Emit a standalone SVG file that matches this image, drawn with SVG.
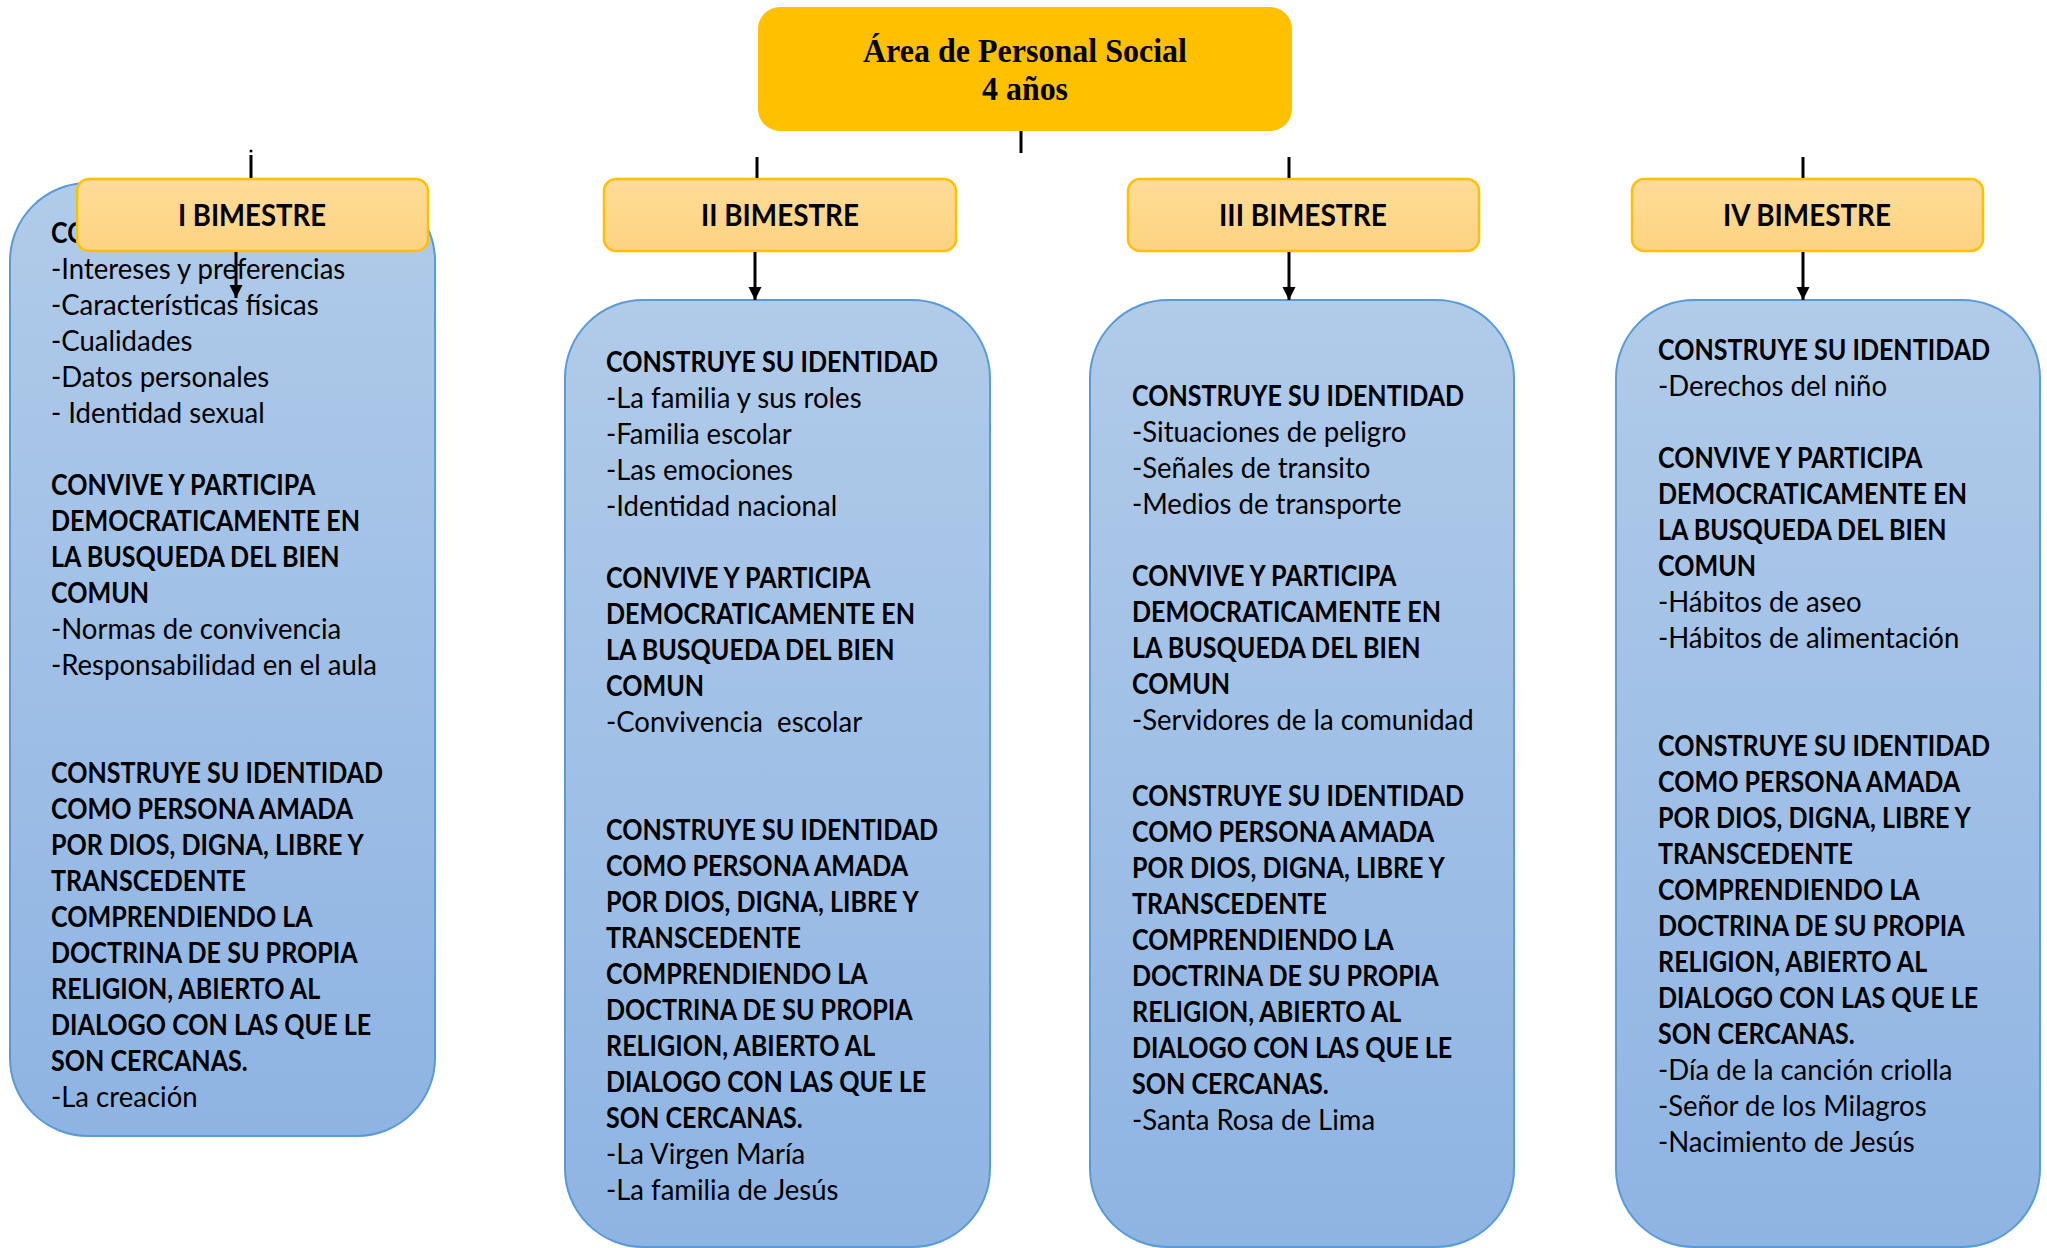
<svg xmlns="http://www.w3.org/2000/svg" width="2047" height="1248" viewBox="0 0 2047 1248">
<style>
.title{font-family:"Liberation Serif","Times New Roman",serif;font-weight:bold;font-size:34px;fill:#000}
.bim{font-family:Lato,"Liberation Sans",sans-serif;font-weight:bold;font-size:30px;fill:#000}
.body text{font-family:Lato,"Liberation Sans",sans-serif;font-size:29px;fill:#000}
.body .b{font-weight:bold}
.blue{fill:url(#gBlue);stroke:#5B9BD5;stroke-width:2}
.orange{fill:url(#gOr);stroke:#FFC000;stroke-width:2.5}
.ln{stroke:#000;stroke-width:3;fill:none}
.arr{stroke:#000;stroke-width:3;fill:none;marker-end:url(#ah)}
</style>
<defs>
<linearGradient id="gBlue" x1="0" y1="0" x2="0" y2="1">
<stop offset="0" stop-color="#B1CBE9"/><stop offset="1" stop-color="#8EB4E3"/>
</linearGradient>
<linearGradient id="gOr" x1="0" y1="0" x2="0" y2="1">
<stop offset="0" stop-color="#FEDC98"/><stop offset="1" stop-color="#FDD381"/>
</linearGradient>
<marker id="ah" viewBox="0 0 10 10" refX="10" refY="5" markerWidth="4.5" markerHeight="4.5" orient="auto" markerUnits="strokeWidth">
<path d="M0,0 L10,5 L0,10 z" fill="#000"/>
</marker>
</defs>
<rect width="2047" height="1248" fill="#fff"/>

<g id="node-title">
<rect x="758" y="7" width="534" height="124" rx="22" fill="#FFC000"/>
<text class="title" x="1025" y="62" text-anchor="middle" textLength="324" lengthAdjust="spacingAndGlyphs">Área de Personal Social</text>
<text class="title" x="1025" y="100" text-anchor="middle" textLength="86" lengthAdjust="spacingAndGlyphs">4 años</text>
</g>

<g id="node-box1">
<rect class="blue" x="10" y="183" width="425" height="953" rx="78"/>
<g class="body" transform="translate(51,0) scale(0.865,1)">
<text class="b" x="0" y="243">CONSTRUYE SU IDENTIDAD</text>
<text class="b" x="0" y="495">CONVIVE Y PARTICIPA</text>
<text class="b" x="0" y="531">DEMOCRATICAMENTE EN</text>
<text class="b" x="0" y="567">LA BUSQUEDA DEL BIEN</text>
<text class="b" x="0" y="603">COMUN</text>
<text class="b" x="0" y="783">CONSTRUYE SU IDENTIDAD</text>
<text class="b" x="0" y="819">COMO PERSONA AMADA</text>
<text class="b" x="0" y="855">POR DIOS, DIGNA, LIBRE Y</text>
<text class="b" x="0" y="891">TRANSCEDENTE</text>
<text class="b" x="0" y="927">COMPRENDIENDO LA</text>
<text class="b" x="0" y="963">DOCTRINA DE SU PROPIA</text>
<text class="b" x="0" y="999">RELIGION, ABIERTO AL</text>
<text class="b" x="0" y="1035">DIALOGO CON LAS QUE LE</text>
<text class="b" x="0" y="1071">SON CERCANAS.</text>
</g>
<g class="body" transform="translate(51,0) scale(0.95,1)">
<text x="0" y="279">-Intereses y preferencias</text>
<text x="0" y="315">-Características físicas</text>
<text x="0" y="351">-Cualidades</text>
<text x="0" y="387">-Datos personales</text>
<text x="0" y="423">- Identidad sexual</text>
<text x="0" y="639">-Normas de convivencia</text>
<text x="0" y="675">-Responsabilidad en el aula</text>
<text x="0" y="1107">-La creación</text>
</g>
</g>

<g id="node-box2">
<rect class="blue" x="565" y="300" width="425" height="947" rx="78"/>
<g class="body" transform="translate(606,0) scale(0.865,1)">
<text class="b" x="0" y="372">CONSTRUYE SU IDENTIDAD</text>
<text class="b" x="0" y="588">CONVIVE Y PARTICIPA</text>
<text class="b" x="0" y="624">DEMOCRATICAMENTE EN</text>
<text class="b" x="0" y="660">LA BUSQUEDA DEL BIEN</text>
<text class="b" x="0" y="696">COMUN</text>
<text class="b" x="0" y="840">CONSTRUYE SU IDENTIDAD</text>
<text class="b" x="0" y="876">COMO PERSONA AMADA</text>
<text class="b" x="0" y="912">POR DIOS, DIGNA, LIBRE Y</text>
<text class="b" x="0" y="948">TRANSCEDENTE</text>
<text class="b" x="0" y="984">COMPRENDIENDO LA</text>
<text class="b" x="0" y="1020">DOCTRINA DE SU PROPIA</text>
<text class="b" x="0" y="1056">RELIGION, ABIERTO AL</text>
<text class="b" x="0" y="1092">DIALOGO CON LAS QUE LE</text>
<text class="b" x="0" y="1128">SON CERCANAS.</text>
</g>
<g class="body" transform="translate(606,0) scale(0.95,1)">
<text x="0" y="408">-La familia y sus roles</text>
<text x="0" y="444">-Familia escolar</text>
<text x="0" y="480">-Las emociones</text>
<text x="0" y="516">-Identidad nacional</text>
<text x="0" y="732" xml:space="preserve">-Convivencia  escolar</text>
<text x="0" y="1164">-La Virgen María</text>
<text x="0" y="1200">-La familia de Jesús</text>
</g>
</g>

<g id="node-box3">
<rect class="blue" x="1090" y="300" width="424" height="947" rx="78"/>
<g class="body" transform="translate(1132,0) scale(0.865,1)">
<text class="b" x="0" y="406">CONSTRUYE SU IDENTIDAD</text>
<text class="b" x="0" y="586">CONVIVE Y PARTICIPA</text>
<text class="b" x="0" y="622">DEMOCRATICAMENTE EN</text>
<text class="b" x="0" y="658">LA BUSQUEDA DEL BIEN</text>
<text class="b" x="0" y="694">COMUN</text>
<text class="b" x="0" y="806">CONSTRUYE SU IDENTIDAD</text>
<text class="b" x="0" y="842">COMO PERSONA AMADA</text>
<text class="b" x="0" y="878">POR DIOS, DIGNA, LIBRE Y</text>
<text class="b" x="0" y="914">TRANSCEDENTE</text>
<text class="b" x="0" y="950">COMPRENDIENDO LA</text>
<text class="b" x="0" y="986">DOCTRINA DE SU PROPIA</text>
<text class="b" x="0" y="1022">RELIGION, ABIERTO AL</text>
<text class="b" x="0" y="1058">DIALOGO CON LAS QUE LE</text>
<text class="b" x="0" y="1094">SON CERCANAS.</text>
</g>
<g class="body" transform="translate(1132,0) scale(0.95,1)">
<text x="0" y="442">-Situaciones de peligro</text>
<text x="0" y="478">-Señales de transito</text>
<text x="0" y="514">-Medios de transporte</text>
<text x="0" y="730">-Servidores de la comunidad</text>
<text x="0" y="1130">-Santa Rosa de Lima</text>
</g>
</g>

<g id="node-box4">
<rect class="blue" x="1616" y="300" width="424" height="947" rx="78"/>
<g class="body" transform="translate(1658,0) scale(0.865,1)">
<text class="b" x="0" y="360">CONSTRUYE SU IDENTIDAD</text>
<text class="b" x="0" y="468">CONVIVE Y PARTICIPA</text>
<text class="b" x="0" y="504">DEMOCRATICAMENTE EN</text>
<text class="b" x="0" y="540">LA BUSQUEDA DEL BIEN</text>
<text class="b" x="0" y="576">COMUN</text>
<text class="b" x="0" y="756">CONSTRUYE SU IDENTIDAD</text>
<text class="b" x="0" y="792">COMO PERSONA AMADA</text>
<text class="b" x="0" y="828">POR DIOS, DIGNA, LIBRE Y</text>
<text class="b" x="0" y="864">TRANSCEDENTE</text>
<text class="b" x="0" y="900">COMPRENDIENDO LA</text>
<text class="b" x="0" y="936">DOCTRINA DE SU PROPIA</text>
<text class="b" x="0" y="972">RELIGION, ABIERTO AL</text>
<text class="b" x="0" y="1008">DIALOGO CON LAS QUE LE</text>
<text class="b" x="0" y="1044">SON CERCANAS.</text>
</g>
<g class="body" transform="translate(1658,0) scale(0.95,1)">
<text x="0" y="396">-Derechos del niño</text>
<text x="0" y="612">-Hábitos de aseo</text>
<text x="0" y="648">-Hábitos de alimentación</text>
<text x="0" y="1080">-Día de la canción criolla</text>
<text x="0" y="1116">-Señor de los Milagros</text>
<text x="0" y="1152">-Nacimiento de Jesús</text>
</g>
</g>

<g id="node-bim1">
<rect class="orange" x="77" y="179" width="351" height="72" rx="12"/>
<text class="bim" x="252" y="226" text-anchor="middle" textLength="148" lengthAdjust="spacingAndGlyphs">I BIMESTRE</text>
</g>
<g id="node-bim2">
<rect class="orange" x="604" y="179" width="352" height="72" rx="12"/>
<text class="bim" x="780" y="226" text-anchor="middle" textLength="158" lengthAdjust="spacingAndGlyphs">II BIMESTRE</text>
</g>
<g id="node-bim3">
<rect class="orange" x="1128" y="179" width="351" height="72" rx="12"/>
<text class="bim" x="1303" y="226" text-anchor="middle" textLength="168" lengthAdjust="spacingAndGlyphs">III BIMESTRE</text>
</g>
<g id="node-bim4">
<rect class="orange" x="1632" y="179" width="351" height="72" rx="12"/>
<text class="bim" x="1807" y="226" text-anchor="middle" textLength="168" lengthAdjust="spacingAndGlyphs">IV BIMESTRE</text>
</g>

<g id="connectors">
<line class="ln" x1="1021" y1="131" x2="1021" y2="153"/>
<line class="ln" x1="251" y1="155" x2="251" y2="178"/>
<circle cx="251" cy="151" r="1.5" fill="#000"/>
<line class="ln" x1="757" y1="157" x2="757" y2="178"/>
<line class="ln" x1="1289" y1="157" x2="1289" y2="178"/>
<line class="ln" x1="1803" y1="157" x2="1803" y2="178"/>
<line class="arr" x1="236" y1="252" x2="236" y2="298"/>
<line class="arr" x1="755" y1="252" x2="755" y2="300"/>
<line class="arr" x1="1289" y1="252" x2="1289" y2="300"/>
<line class="arr" x1="1803" y1="252" x2="1803" y2="300"/>
</g>
</svg>
